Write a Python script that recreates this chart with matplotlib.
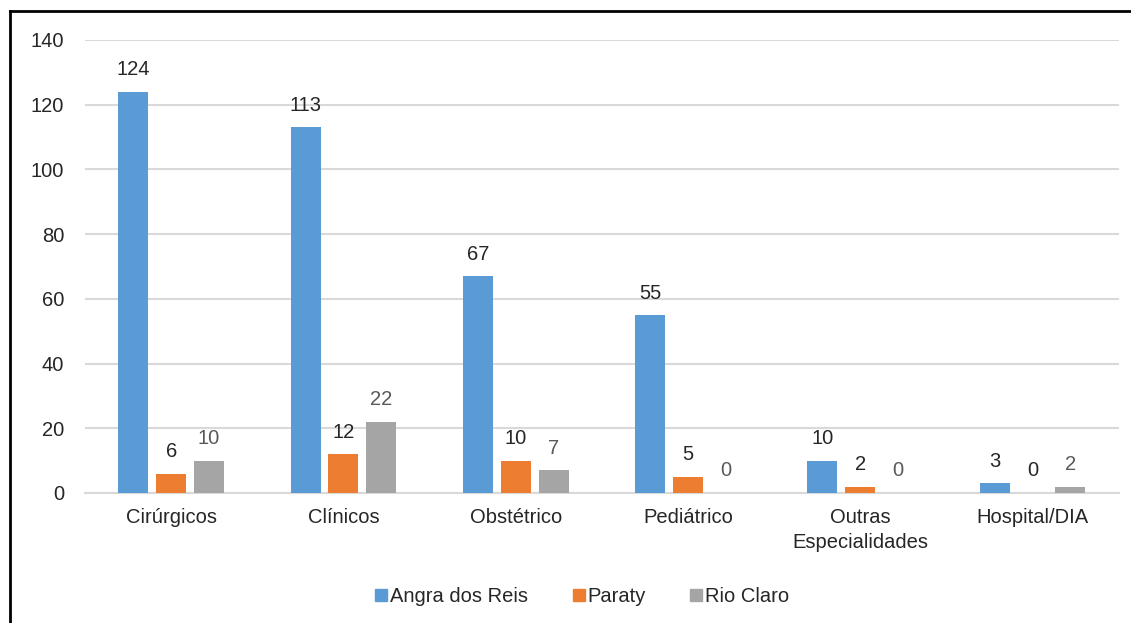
import numpy as np
import matplotlib
matplotlib.use("Agg")
import matplotlib.pyplot as plt
from matplotlib.lines import Line2D

plt.rcParams["font.family"] = ["Liberation Sans", "DejaVu Sans"]

# Leitos por tipo e município
categorias = ["Cirúrgicos", "Clínicos", "Obstétrico", "Pediátrico",
              "Outras\nEspecialidades", "Hospital/DIA"]
angra = [124, 113, 67, 55, 10, 3]
paraty = [6, 12, 10, 5, 2, 0]
rio_claro = [10, 22, 7, 0, 0, 2]

series = ["Angra dos Reis", "Paraty", "Rio Claro"]
cores = ["#5b9bd5", "#ed7d31", "#a5a5a5"]
cores_rotulo = ["#262626", "#262626", "#595959"]
tam = 14.5

fig = plt.figure(figsize=(11.31, 6.23), dpi=100)
ax = fig.add_axes([0.0752, 0.2087, 0.9138, 0.7271])

x = np.arange(len(categorias))
largura = 0.174
passo = 0.22

for i, (valores, cor, cor_txt) in enumerate(zip([angra, paraty, rio_claro], cores, cores_rotulo)):
    pos = x + (i - 1) * passo
    ax.bar(pos, valores, width=largura, color=cor, zorder=3)
    for xp, v in zip(pos, valores):
        ax.annotate(str(v), (xp, v), xytext=(0, 9), textcoords="offset points",
                    ha="center", va="bottom", fontsize=tam, color=cor_txt)

ax.set_xlim(-0.5, len(categorias) - 0.5)
ax.set_ylim(0, 140)
ax.set_yticks(range(0, 141, 20))
ax.set_xticks(x)
ax.set_xticklabels(categorias, linespacing=1.35)
ax.tick_params(axis="both", length=0, labelsize=tam, colors="#262626")
ax.tick_params(axis="y", pad=15)
ax.tick_params(axis="x", pad=11)

ax.grid(axis="y", color="#d9d9d9", linewidth=1.5, zorder=0)
for lado in ["top", "right", "left"]:
    ax.spines[lado].set_visible(False)
ax.spines["bottom"].set_color("#d9d9d9")
ax.spines["bottom"].set_linewidth(1.5)

# legenda com marcadores quadrados
alcas = [Line2D([], [], marker="s", linestyle="none", markersize=8,
                markerfacecolor=c, markeredgecolor=c) for c in cores]
fig.legend(alcas, series, loc="center", bbox_to_anchor=(0.514, 0.043), ncol=3,
           frameon=False, fontsize=tam, handletextpad=0.05, columnspacing=2.1,
           handlelength=0.8, labelcolor="#262626")

# moldura da figura (lados esquerdo e superior)
fig.add_artist(Line2D([10 / 1131, 10 / 1131], [0, 1 - 11 / 623],
                      transform=fig.transFigure, color="black", linewidth=2))
fig.add_artist(Line2D([10 / 1131, 1], [1 - 11 / 623, 1 - 11 / 623],
                      transform=fig.transFigure, color="black", linewidth=2))

fig.savefig("out.png", dpi=100)
